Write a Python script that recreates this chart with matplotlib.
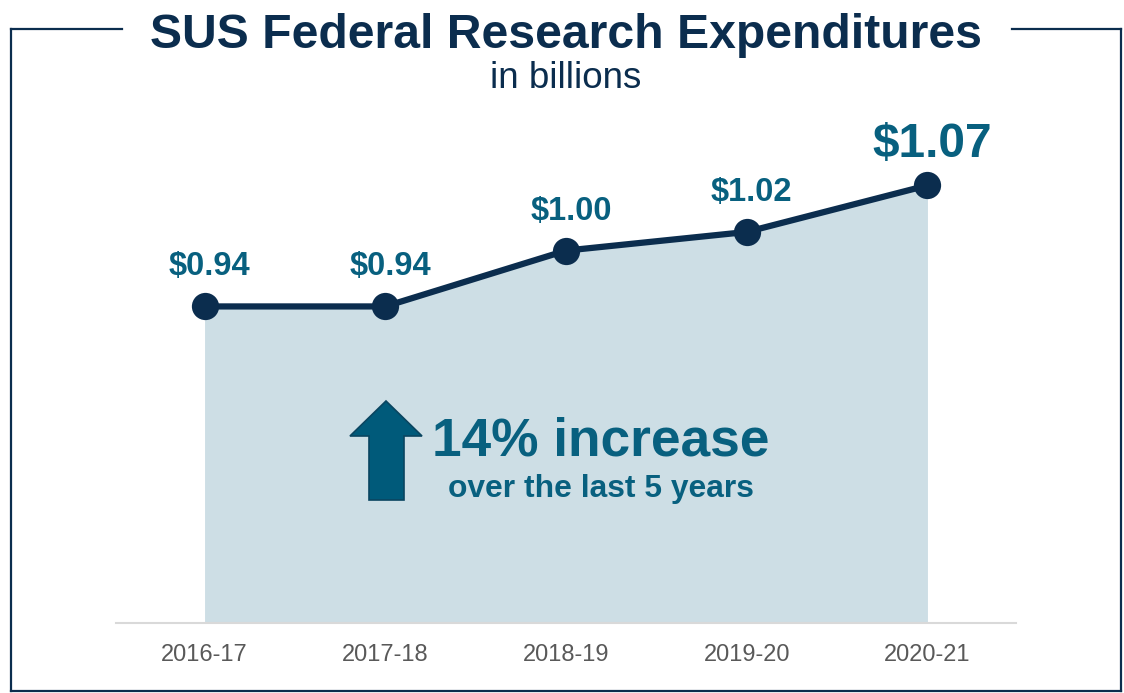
import matplotlib
matplotlib.use("Agg")
import matplotlib.pyplot as plt
from matplotlib.lines import Line2D
from matplotlib.patches import Polygon

# data
years = ["2016-17", "2017-18", "2018-19", "2019-20", "2020-21"]
spend = [0.94, 0.94, 1.00, 1.02, 1.07]
labels = ["$0.94", "$0.94", "$1.00", "$1.02", "$1.07"]

navy = "#0b2d4e"
teal = "#08607f"
fillc = "#cddee5"

plt.rcParams["font.family"] = ["Liberation Sans", "DejaVu Sans"]

fig = plt.figure(figsize=(11.24, 6.93), dpi=100)
W, H = 1124.0, 693.0

# frame with a gap for the title
def fx(px):
    return px / W

def fy(py):
    return 1 - py / H

frame = [([11, 122], [29, 29]), ([1012, 1121], [29, 29]),
         ([11, 11], [29, 691]), ([1121, 1121], [29, 691]),
         ([11, 1121], [691, 691])]
for xs, ys in frame:
    fig.add_artist(Line2D([fx(x) for x in xs], [fy(y) for y in ys],
                          color=navy, lw=1.6, solid_capstyle="projecting"))

fig.text(fx(566), fy(48), "SUS Federal Research Expenditures", ha="center",
         va="baseline", fontsize=34.7, fontweight="bold", color=navy)
fig.text(fx(566), fy(88), "in billions", ha="center", va="baseline",
         fontsize=26.5, color=navy)

ax = fig.add_axes([fx(116), fy(623), 900 / W, 521.4 / H])
x = list(range(len(years)))
ax.set_xlim(-0.49, len(years) - 1 + 0.49)
ax.set_ylim(0.6, 1.16)

ax.fill_between(x, spend, 0.6, color=fillc, lw=0, zorder=1)
ax.plot(x, spend, color=navy, lw=4.5, zorder=3, solid_capstyle="round")
ax.scatter(x, spend, s=385, color=navy, zorder=4, lw=0)

for i, (v, lab) in enumerate(zip(spend, labels)):
    big = i == len(spend) - 1
    ax.annotate(lab, (i, v), xytext=(5, 28 if big else 31),
                textcoords="offset pixels", ha="center", va="baseline",
                fontsize=34.5 if big else 23.5, fontweight="bold", color=teal)

for s in ["top", "right", "left"]:
    ax.spines[s].set_visible(False)
ax.spines["bottom"].set_color("#d9d9d9")
ax.spines["bottom"].set_linewidth(1.5)
ax.set_yticks([])
ax.set_xticks(x)
ax.set_xticklabels(years, fontsize=17, color="#595959")
ax.tick_params(axis="x", length=0, pad=15)

# callout arrow and text
arrow = Polygon([(fx(369), fy(500)), (fx(404), fy(500)), (fx(404), fy(436)),
                 (fx(422), fy(436)), (fx(386), fy(401)), (fx(350), fy(436)),
                 (fx(369), fy(436))], closed=True, transform=fig.transFigure,
                facecolor="#005a7a", edgecolor="#0a4560", lw=1.2, zorder=5)
fig.add_artist(arrow)
fig.text(fx(601), fy(455), "14% increase", ha="center", va="baseline",
         fontsize=38.3, fontweight="bold", color=teal)
fig.text(fx(601), fy(497), "over the last 5 years", ha="center",
         va="baseline", fontsize=22.9, fontweight="bold", color=teal)

fig.savefig("out.png", dpi=100)
